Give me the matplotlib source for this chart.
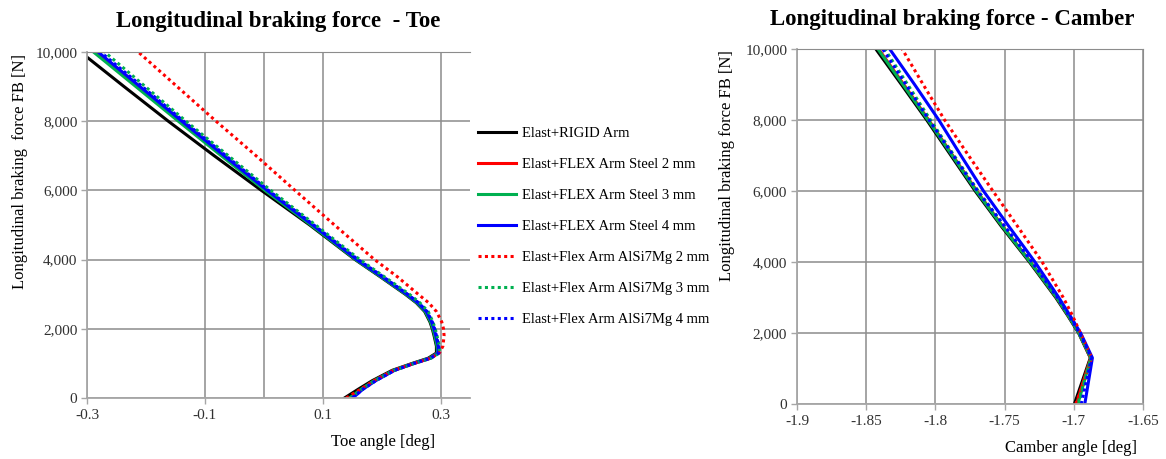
import matplotlib
matplotlib.use("Agg")
import matplotlib.pyplot as plt
from matplotlib.ticker import FuncFormatter

plt.rcParams['font.family'] = ['Liberation Serif', 'DejaVu Serif']
plt.rcParams['axes.unicode_minus'] = False

# Сила гальмування [N]
force_toe = [0, 250, 500, 800, 1000, 1150, 1300, 1500, 1800, 2000, 2200, 2500, 2750, 3000, 3500, 4000,
             5000, 6000, 7000, 8000, 9000, 10000]

# Кут сходження [deg] для кожного варіанту
toe_rigid = [0.137, 0.160, 0.184, 0.218, 0.252, 0.279, 0.293, 0.293, 0.289, 0.286, 0.282, 0.273, 0.259, 0.240,
             0.198, 0.155, 0.078, -0.004, -0.084, -0.162, -0.237, -0.311]
toe_steel2 = [0.149, 0.166, 0.188, 0.221, 0.254, 0.282, 0.295, 0.295, 0.291, 0.288, 0.284, 0.275, 0.261, 0.242,
              0.200, 0.157, 0.082, 0.005, -0.068, -0.140, -0.211, -0.283]
toe_steel3 = [0.146, 0.165, 0.187, 0.220, 0.253, 0.281, 0.295, 0.294, 0.290, 0.287, 0.283, 0.274, 0.260, 0.241,
              0.199, 0.156, 0.080, 0.002, -0.072, -0.145, -0.217, -0.289]
toe_steel4 = [0.151, 0.168, 0.190, 0.222, 0.255, 0.283, 0.296, 0.296, 0.292, 0.289, 0.285, 0.276, 0.262, 0.243,
              0.201, 0.158, 0.083, 0.006, -0.067, -0.139, -0.210, -0.281]
toe_al2 = [0.140, 0.164, 0.187, 0.220, 0.255, 0.283, 0.298, 0.304, 0.306, 0.305, 0.302, 0.293, 0.280, 0.262,
           0.227, 0.188, 0.120, 0.053, -0.013, -0.081, -0.147, -0.213]
toe_al3 = [0.147, 0.166, 0.189, 0.222, 0.256, 0.284, 0.298, 0.298, 0.294, 0.291, 0.287, 0.279, 0.265, 0.247,
           0.205, 0.163, 0.088, 0.012, -0.060, -0.132, -0.201, -0.270]
toe_al4 = [0.150, 0.168, 0.190, 0.222, 0.255, 0.283, 0.297, 0.297, 0.293, 0.290, 0.286, 0.277, 0.263, 0.244,
           0.203, 0.160, 0.085, 0.008, -0.064, -0.136, -0.206, -0.277]

force_camber = [0, 1300, 2000, 2500, 3000, 4000, 5000, 6000, 7000, 8000, 9000, 10000]

# Кут розвалу [deg]
camber_rigid = [-1.6995, -1.6880, -1.6965, -1.7045, -1.7130, -1.7320, -1.7522, -1.7712, -1.7887, -1.8062, -1.8245, -1.8430]
camber_steel2 = [-1.6980, -1.6878, -1.6962, -1.7040, -1.7124, -1.7312, -1.7512, -1.7700, -1.7874, -1.8048, -1.8228, -1.8410]
camber_steel3 = [-1.6970, -1.6876, -1.6962, -1.7040, -1.7124, -1.7314, -1.7515, -1.7704, -1.7878, -1.8053, -1.8234, -1.8415]
camber_steel4 = [-1.6920, -1.6865, -1.6950, -1.7028, -1.7108, -1.7280, -1.7468, -1.7652, -1.7815, -1.7975, -1.8150, -1.8330]
camber_al2 = [-1.6985, -1.6870, -1.6952, -1.7010, -1.7076, -1.7228, -1.7405, -1.7584, -1.7760, -1.7933, -1.8088, -1.8240]
camber_al3 = [-1.6965, -1.6875, -1.6962, -1.7038, -1.7120, -1.7305, -1.7500, -1.7690, -1.7865, -1.8035, -1.8200, -1.8366]
camber_al4 = [-1.6945, -1.6872, -1.6958, -1.7036, -1.7118, -1.7302, -1.7498, -1.7695, -1.7870, -1.8045, -1.8213, -1.8380]

labels = ['Elast+RIGID Arm', 'Elast+FLEX Arm Steel 2 mm', 'Elast+FLEX Arm Steel 3 mm',
          'Elast+FLEX Arm Steel 4 mm', 'Elast+Flex Arm AlSi7Mg 2 mm',
          'Elast+Flex Arm AlSi7Mg 3 mm', 'Elast+Flex Arm AlSi7Mg 4 mm']
colors = ['#000000', '#FF0000', '#00B050', '#0000FF', '#FF0000', '#00B050', '#0000FF']
dotted = (0, (1, 1.1))
styles = ['-', '-', '-', '-', dotted, dotted, dotted]

toe_series = [toe_rigid, toe_steel2, toe_steel3, toe_steel4, toe_al2, toe_al3, toe_al4]
camber_series = [camber_rigid, camber_steel2, camber_steel3, camber_steel4, camber_al2, camber_al3, camber_al4]

grid_col = '#8c8c8c'
text_col = '#303030'
thousands = FuncFormatter(lambda v, p: f'{int(v):,}')

fig = plt.figure(figsize=(11.66, 4.59), dpi=100)
ax1 = fig.add_axes([0.0746, 0.1329, 0.3285, 0.7538])
ax2 = fig.add_axes([0.6835, 0.1198, 0.2967, 0.7734])

handles = []
for xs, c, ls, lab in zip(toe_series, colors, styles, labels):
    h, = ax1.plot(xs, force_toe, color=c, linestyle=ls, linewidth=2.2, label=lab)
    handles.append(h)
for xs, c, ls in zip(camber_series, colors, styles):
    ax2.plot(xs, force_camber, color=c, linestyle=ls, linewidth=2.2)

# Ліва діаграма: сходження
ax1.set_xlim(-0.3, 0.35)
ax1.set_ylim(0, 10000)
ax1.set_xticks([-0.3, -0.1, 0.1, 0.3])
ax1.set_xticks([0.0], minor=True)
ax1.set_yticks(range(0, 10001, 2000))
ax1.yaxis.set_major_formatter(thousands)
ax1.grid(True, which='both', color=grid_col, linewidth=1.1)
ax1.tick_params(axis='x', which='minor', length=0)
ax1.spines['right'].set_visible(False)
ax1.spines['top'].set_color(grid_col)
ax1.set_xlabel('Toe angle [deg]', fontsize=12, va='center')
ax1.xaxis.set_label_coords(0.773, -0.127)
ax1.set_ylabel('Longitudinal braking  force FB [N]', fontsize=12, va='center')
ax1.yaxis.set_label_coords(-0.175, 0.656)

# Права діаграма: розвал
ax2.set_xlim(-1.9, -1.65)
ax2.set_ylim(0, 10000)
ax2.set_xticks([-1.9, -1.85, -1.8, -1.75, -1.7, -1.65])
ax2.set_xticklabels(['-1.9', '-1.85', '-1.8', '-1.75', '-1.7', '-1.65'])
ax2.set_yticks(range(0, 10001, 2000))
ax2.yaxis.set_major_formatter(thousands)
ax2.grid(True, color=grid_col, linewidth=1.1)
for s in ['top', 'right']:
    ax2.spines[s].set_color(grid_col)
ax2.set_xlabel('Camber angle [deg]', fontsize=12, va='center')
ax2.xaxis.set_label_coords(0.792, -0.124)
ax2.set_ylabel('Longitudinal braking force FB [N]', fontsize=12, va='center')
ax2.yaxis.set_label_coords(-0.202, 0.673)

for ax in (ax1, ax2):
    ax.set_axisbelow(True)
    for s in ['left', 'bottom']:
        ax.spines[s].set_color('#a6a6a6')
        ax.spines[s].set_linewidth(1.3)
    ax.tick_params(axis='both', which='major', labelsize=11, labelcolor=text_col,
                   color='#a6a6a6', length=4, width=1)
    ax.tick_params(axis='x', pad=4)
    ax.tick_params(axis='y', pad=3)

fig.text(278 / 1166, 1 - 21 / 459, 'Longitudinal braking force  - Toe',
         fontsize=16.5, fontweight='bold', ha='center', va='center')
fig.text(952 / 1166, 1 - 20 / 459, 'Longitudinal braking force - Camber',
         fontsize=16.5, fontweight='bold', ha='center', va='center')

fig.legend(handles=handles, loc='upper left', bbox_to_anchor=(472 / 1166, 1 - 121 / 459),
           frameon=False, fontsize=10.5, handlelength=2.6, handletextpad=0.4,
           labelspacing=1.22, borderaxespad=0)

fig.savefig('out.png', dpi=100)
